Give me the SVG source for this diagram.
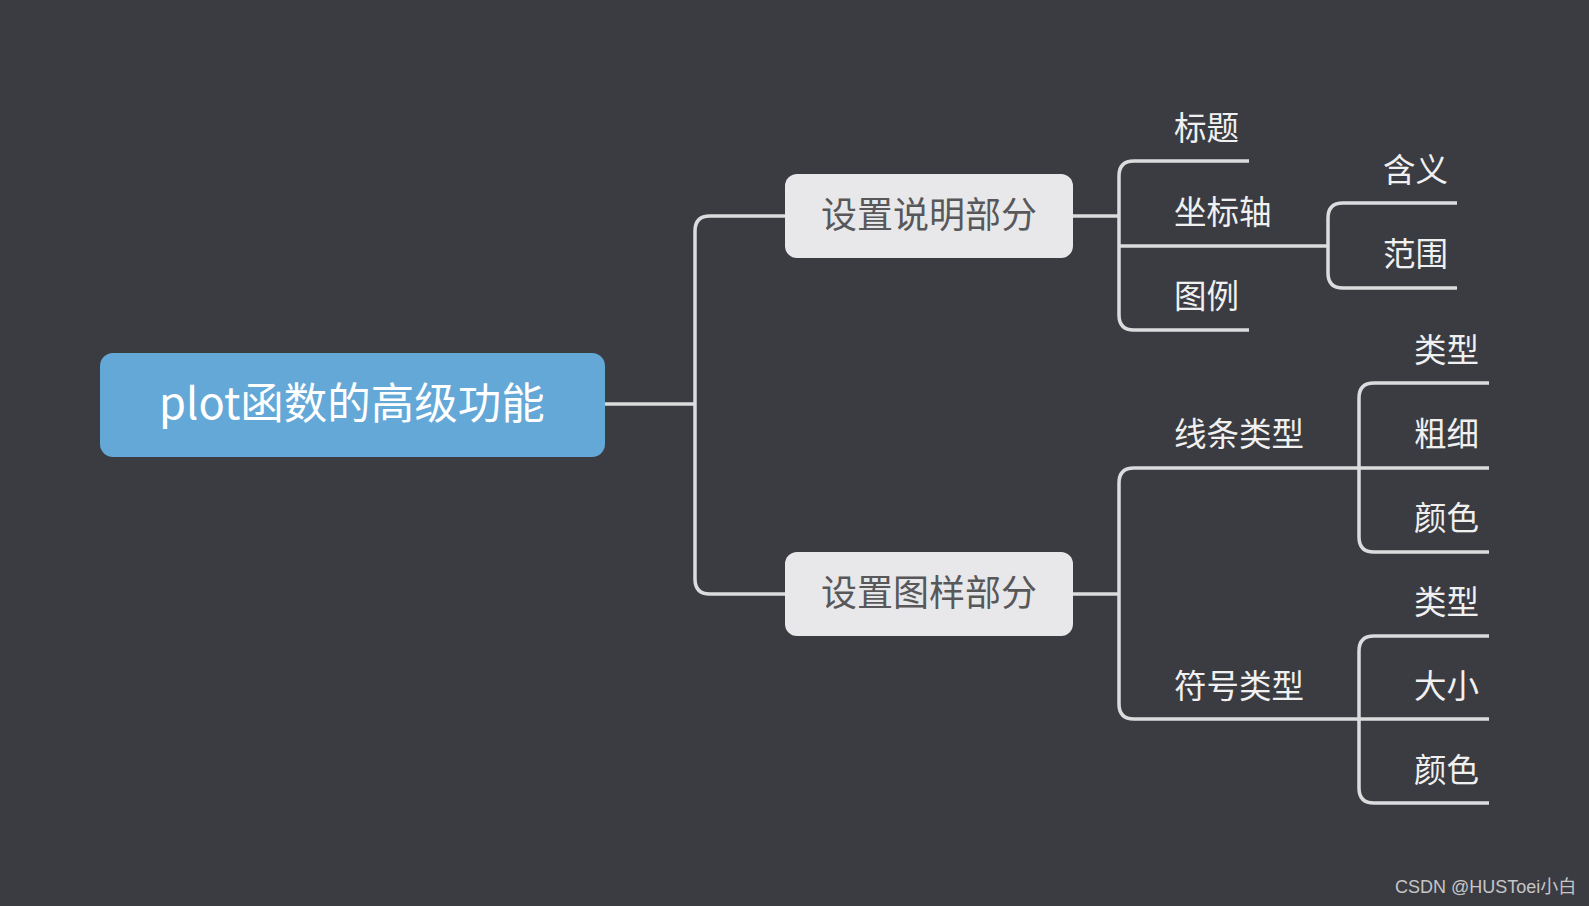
<svg xmlns="http://www.w3.org/2000/svg" width="1589" height="906" viewBox="0 0 1589 906">
<style>
.bg{fill:#3b3c42}
.ln{fill:none;stroke:#dcdcde;stroke-width:3.5;stroke-linecap:butt}
.box{fill:#e8e8ea}
.root{fill:#64a8d8}
.t{font-family:"Noto Sans CJK SC","Noto Sans",sans-serif}
.rt{font-size:43.5px;fill:#ffffff;text-anchor:middle}
.bt{font-size:36px;fill:#58585a;text-anchor:middle}
.lf{font-size:32.5px;fill:#f0f0f0}
.wm{font-family:"Liberation Sans","Noto Sans CJK SC",sans-serif;font-size:18px;fill:#c6c6c8}
</style>
<rect class="bg" x="0" y="0" width="1589" height="906"/>
<g id="connectors">
<path class="ln" d="M605,404 H695"/>
<path class="ln" d="M785,216 H710 Q695,216 695,231 V579 Q695,594 710,594 H785"/>
<path class="ln" d="M1073,216 H1119"/>
<path class="ln" d="M1249,161 H1134 Q1119,161 1119,176 V315 Q1119,330 1134,330 H1249"/>
<path class="ln" d="M1119,246 H1328"/>
<path class="ln" d="M1457,203 H1343 Q1328,203 1328,218 V273 Q1328,288 1343,288 H1457"/>
<path class="ln" d="M1073,594 H1119"/>
<path class="ln" d="M1359,468 H1134 Q1119,468 1119,483 V704 Q1119,719 1134,719 H1359"/>
<path class="ln" d="M1489,383 H1374 Q1359,383 1359,398 V537 Q1359,552 1374,552 H1489"/>
<path class="ln" d="M1359,468 H1489"/>
<path class="ln" d="M1489,636 H1374 Q1359,636 1359,651 V788 Q1359,803 1374,803 H1489"/>
<path class="ln" d="M1359,719 H1489"/>
</g>
<g id="root">
<rect class="root" x="100" y="353" width="505" height="104" rx="13"/>
<text class="t rt" x="352" y="419">plot函数的高级功能</text>
</g>
<g id="n-shuoming">
<rect class="box" x="785" y="174" width="288" height="84" rx="12"/>
<text class="t bt" x="929" y="228">设置说明部分</text>
</g>
<g id="n-tuyang">
<rect class="box" x="785" y="552" width="288" height="84" rx="12"/>
<text class="t bt" x="929" y="606">设置图样部分</text>
</g>
<g id="n-biaoti"><text class="t lf" x="1174" y="140">标题</text></g>
<g id="n-zuobiaozhou"><text class="t lf" x="1174" y="224">坐标轴</text></g>
<g id="n-tuli"><text class="t lf" x="1174" y="308">图例</text></g>
<g id="n-hanyi"><text class="t lf" x="1383" y="182">含义</text></g>
<g id="n-fanwei"><text class="t lf" x="1383" y="266">范围</text></g>
<g id="n-xiantiao"><text class="t lf" x="1174" y="446">线条类型</text></g>
<g id="n-lx1"><text class="t lf" x="1414" y="362">类型</text></g>
<g id="n-cuxi"><text class="t lf" x="1414" y="446">粗细</text></g>
<g id="n-ys1"><text class="t lf" x="1414" y="530">颜色</text></g>
<g id="n-fuhao"><text class="t lf" x="1174" y="698">符号类型</text></g>
<g id="n-lx2"><text class="t lf" x="1414" y="614">类型</text></g>
<g id="n-daxiao"><text class="t lf" x="1414" y="698">大小</text></g>
<g id="n-ys2"><text class="t lf" x="1414" y="782">颜色</text></g>
<text class="wm" x="1395" y="893">CSDN @HUSToei小白</text>
</svg>
